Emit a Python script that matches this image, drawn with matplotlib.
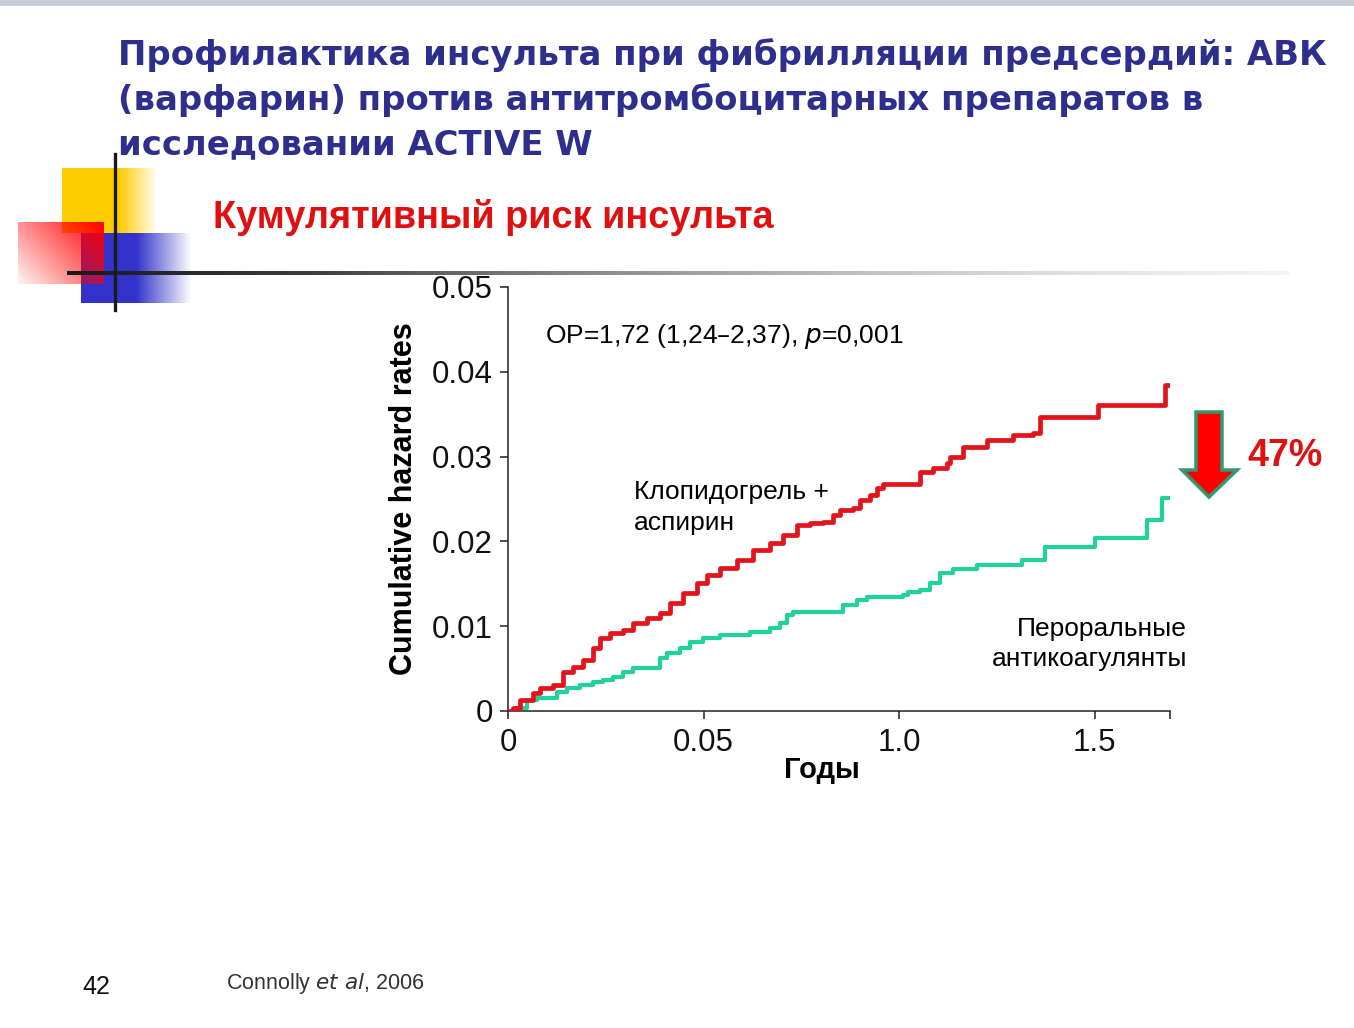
import numpy as np
import matplotlib.pyplot as plt
from matplotlib.patches import Polygon, Rectangle

plt.rcParams['font.family'] = ['Liberation Sans', 'DejaVu Sans']

# Данные: годы и кумулятивный риск
red_t = [0.0, 0.013, 0.031, 0.064, 0.082, 0.115, 0.141, 0.166, 0.192, 0.217, 0.235,
         0.261, 0.294, 0.320, 0.355, 0.389, 0.414, 0.448, 0.483, 0.509, 0.542, 0.586,
         0.627, 0.670, 0.703, 0.739, 0.772, 0.806, 0.831, 0.849, 0.882, 0.900, 0.926,
         0.944, 0.959, 1.054, 1.087, 1.123, 1.130, 1.164, 1.225, 1.292, 1.343, 1.361,
         1.509, 1.680, 1.693]
red_y = [0.0, 0.0004, 0.0013, 0.0021, 0.0027, 0.0031, 0.0046, 0.0052, 0.0060, 0.0074, 0.0086,
         0.0092, 0.0096, 0.0104, 0.0110, 0.0116, 0.0127, 0.0139, 0.0151, 0.0160, 0.0169, 0.0178,
         0.0190, 0.0198, 0.0208, 0.0219, 0.0222, 0.0223, 0.0231, 0.0237, 0.0239, 0.0249, 0.0255,
         0.0263, 0.0268, 0.0282, 0.0287, 0.0292, 0.0300, 0.0311, 0.0320, 0.0325, 0.0328, 0.0347,
         0.0361, 0.0384, 0.0384]

green_t = [0.0, 0.023, 0.049, 0.074, 0.125, 0.151, 0.184, 0.217, 0.243, 0.269, 0.294,
           0.320, 0.389, 0.407, 0.440, 0.465, 0.499, 0.542, 0.619, 0.670, 0.696, 0.714,
           0.729, 0.857, 0.893, 0.918, 1.010, 1.023, 1.054, 1.079, 1.105, 1.138, 1.199,
           1.315, 1.373, 1.501, 1.634, 1.673, 1.693]
green_y = [0.0, 0.0004, 0.0013, 0.0015, 0.0022, 0.0027, 0.0031, 0.0034, 0.0037, 0.0040, 0.0046,
           0.0051, 0.0063, 0.0068, 0.0074, 0.0081, 0.0086, 0.0090, 0.0093, 0.0098, 0.0104, 0.0113,
           0.0117, 0.0125, 0.0131, 0.0134, 0.0137, 0.0140, 0.0143, 0.0151, 0.0163, 0.0167, 0.0172,
           0.0178, 0.0193, 0.0204, 0.0225, 0.0251, 0.0251]

x_ticks = [0, 0.5, 1.0, 1.5, 1.693]
x_ticklabels = ['0', '0.05', '1.0', '1.5', '']
y_ticks = [0, 0.01, 0.02, 0.03, 0.04, 0.05]
y_ticklabels = ['0', '0.01', '0.02', '0.03', '0.04', '0.05']

title_lines = ['Профилактика инсульта при фибрилляции предсердий: АВК',
               '(варфарин) против антитромбоцитарных препаратов в',
               'исследовании ACTIVE W']
subtitle = 'Кумулятивный риск инсульта'

fig = plt.figure(figsize=(13.54, 10.28), dpi=100)

# фон слайда: декор в пиксельных координатах
bg = fig.add_axes([0, 0, 1, 1])
bg.set_xlim(0, 1354)
bg.set_ylim(1028, 0)
bg.axis('off')

bg.add_patch(Rectangle((0, 0), 1354, 6, color='#c9ccd6', lw=0))


def grad_box(x0, x1, y0, y1, rgb, alpha_fn):
    n = 120
    u = np.linspace(0, 1, n)
    U, V = np.meshgrid(u, u)
    img = np.zeros((n, n, 4))
    img[..., :3] = rgb
    img[..., 3] = np.clip(alpha_fn(U, V), 0, 1)
    bg.imshow(img, extent=[x0, x1, y1, y0], interpolation='bilinear', zorder=1)


grad_box(62, 158, 168, 233, (1.0, 0.8, 0.0), lambda U, V: np.where(U < 0.6, 1.0, (1 - U) / 0.4))
grad_box(81, 192, 233, 303, (0.2, 0.2, 0.8), lambda U, V: np.where(U < 0.5, 1.0, (1 - U) / 0.5))
grad_box(18, 104, 222, 284, (1.0, 0.0, 0.0), lambda U, V: 0.05 + 0.95 * (0.6 * U + 0.4 * (1 - V)))

line_img = np.zeros((1, 300, 4))
fade = np.linspace(0, 1, 300)
line_img[0, :, :3] = (0.1 + 0.7 * fade)[:, None]
line_img[0, :, 3] = np.clip(1.2 - fade, 0, 1)
bg.imshow(line_img, extent=[67, 1290, 275, 271], aspect='auto', interpolation='bilinear', zorder=2)
bg.plot([115, 115], [154, 310], color='#1a1a1a', lw=2.4, zorder=3)
bg.set_xlim(0, 1354)
bg.set_ylim(1028, 0)

for i, line in enumerate(title_lines):
    bg.text(118, 55 + 45 * i, line, color='#2e2e8c', fontsize=24.4, fontweight='bold',
            family='DejaVu Sans', va='center', ha='left')
bg.text(213, 218, subtitle, color='#e01010', fontsize=27.3, fontweight='bold', va='center', ha='left')

# стрелка снижения риска
arrow = Polygon([(1196, 412), (1222, 412), (1222, 470), (1237, 470), (1209, 497),
                 (1182, 470), (1196, 470)], closed=True, facecolor='#ff0000',
                edgecolor='#2f9a6c', lw=2.5, zorder=4)
bg.add_patch(arrow)
bg.text(1247, 456, '47%', color='#e01010', fontsize=27, fontweight='bold', va='center', ha='left')

bg.text(96, 987, '42', fontsize=18, va='center', ha='center', color='#111111')
bg.text(226, 984, 'Connolly $\\it{et\\ al}$, 2006', fontsize=15.5, va='center', ha='left', color='#333333')

# график
ax = fig.add_axes([508 / 1354, 1 - 711 / 1028, 662 / 1354, 424 / 1028])
ax.patch.set_alpha(0)
ax.step(red_t, red_y, where='post', color='#e3141c', lw=3.4, zorder=3)
ax.step(green_t, green_y, where='post', color='#1fd39b', lw=3.0, zorder=2)
ax.set_xlim(0, 1.693)
ax.set_ylim(0, 0.05)
ax.spines['top'].set_visible(False)
ax.spines['right'].set_visible(False)
for s in ('left', 'bottom'):
    ax.spines[s].set_color('#222222')
    ax.spines[s].set_linewidth(1.1)
ax.set_xticks(x_ticks)
ax.set_xticklabels(x_ticklabels)
ax.set_yticks(y_ticks)
ax.set_yticklabels(y_ticklabels)
ax.tick_params(axis='both', labelsize=22.5, length=6, width=1.1, color='#222222', labelcolor='#111111')
ax.tick_params(axis='y', pad=5)
ax.tick_params(axis='x', pad=6)

ax.set_ylabel('Cumulative hazard rates', fontsize=22, fontweight='bold')
ax.yaxis.set_label_coords(-0.135, 0.5)
ax.set_xlabel('Годы', fontsize=21, fontweight='bold')
ax.xaxis.set_label_coords(0.474, -0.105)

ax.text(0.095, 0.0442, 'ОР=1,72 (1,24–2,37), $\\it{p}$=0,001', fontsize=19, va='center', ha='left')
ax.text(0.322, 0.0240, 'Клопидогрель +\nаспирин', fontsize=19, va='center', ha='left', linespacing=1.35)
ax.text(1.737, 0.0079, 'Пероральные\nантикоагулянты', fontsize=19, va='center', ha='right',
        linespacing=1.35, clip_on=False)

fig.savefig('out.png', dpi=100)
